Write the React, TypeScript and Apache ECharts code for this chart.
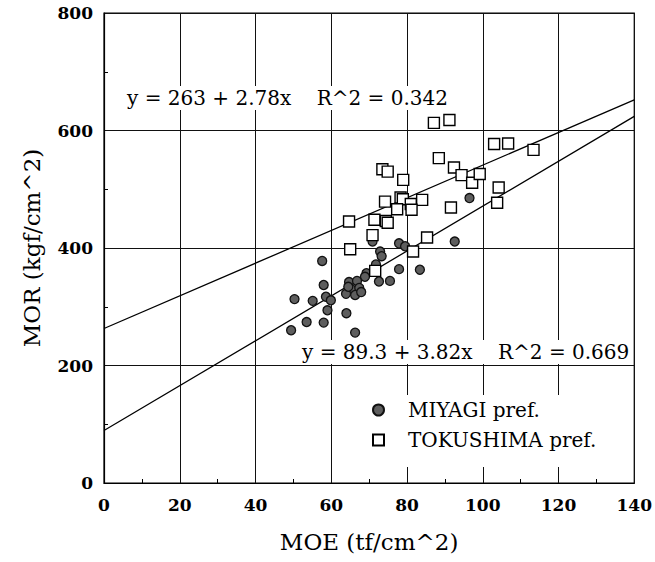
import React, { useEffect, useRef } from "react";
import * as echarts from "echarts";

// MIYAGI pref. (MOE tf/cm^2, MOR kgf/cm^2)
const miyagiMOE = [92.6, 96.5, 77.9, 79.5, 72.9, 73.3, 70.9, 57.6, 71.8, 69.3, 68.9, 77.9, 83.4, 72.6, 75.5, 64.7, 66.8, 65.3, 67.4, 63.9, 66.3, 67.9, 64.5, 58.0, 50.3, 55.1, 58.6, 59.9, 59.0, 64.0, 49.4, 53.5, 58.0, 66.3];
const miyagiMOR = [411, 485, 408, 403, 394, 386, 411, 378, 372, 357, 351, 364, 363, 343, 344, 342, 344, 330, 332, 322, 320, 325, 334, 337, 313, 310, 317, 311, 294, 289, 260, 274, 273, 256];

// TOKUSHIMA pref.
const tokuMOE = [87.1, 91.2, 103.0, 106.7, 113.4, 88.4, 92.4, 94.4, 97.2, 99.2, 104.2, 103.8, 91.6, 73.5, 74.9, 79.0, 78.3, 78.9, 74.2, 84.0, 81.0, 81.2, 77.4, 64.7, 71.4, 74.4, 74.9, 70.9, 85.3, 65.0, 81.6, 71.6];
const tokuMOR = [613, 618, 577, 578, 567, 553, 537, 524, 511, 526, 503, 477, 469, 534, 530, 516, 486, 483, 479, 482, 475, 465, 466, 445, 448, 446, 443, 422, 418, 398, 394, 361];

// Regression lines (end points at MOE = 0 and 140)
const fitTokuX = [0, 140];
const fitTokuY = [263, 652.2];
const fitMiyagiX = [0, 140];
const fitMiyagiY = [89.3, 624.1];

const eqToku = "y = 263 + 2.78x    R^2 = 0.342";
const eqMiyagi = "y = 89.3 + 3.82x    R^2 = 0.669";

const seriesNames = ["MIYAGI pref.", "TOKUSHIMA pref."];
const xTitle = "MOE (tf/cm^2)";
const yTitle = "MOR (kgf/cm^2)";

const FONT = "DejaVu Serif";

export default function App() {
  const ref = useRef<HTMLDivElement>(null);
  useEffect(() => {
    if (!ref.current) return;
    const chart = echarts.init(ref.current, undefined, { renderer: "svg" });
    const pairs = (xs: number[], ys: number[]) => xs.map((x, i) => [x, ys[i]]);
    const axisLabel = { color: "#000", fontFamily: FONT, fontWeight: "bold" as const, fontSize: 17 };
    const line = { lineStyle: { color: "#111", width: 1 } };
    chart.setOption({
      animation: false,
      backgroundColor: "#fff",
      grid: { left: 104, right: 19, top: 13, bottom: 79, show: true, borderColor: "#000", borderWidth: 1.2 },
      xAxis: {
        type: "value", min: 0, max: 140, interval: 20,
        name: xTitle, nameLocation: "middle", nameGap: 47,
        nameTextStyle: { color: "#000", fontFamily: FONT, fontSize: 23 },
        axisLine: { show: true, lineStyle: { color: "#000", width: 1.2 } },
        axisTick: { show: false },
        minorTick: { show: true, splitNumber: 2, length: -4, lineStyle: { color: "#000" } },
        axisLabel: { ...axisLabel, margin: 13 },
        splitLine: { show: true, ...line },
      },
      yAxis: {
        type: "value", min: 0, max: 800, interval: 200,
        name: yTitle, nameLocation: "middle", nameGap: 61, nameRotate: 90,
        nameTextStyle: { color: "#000", fontFamily: FONT, fontSize: 23 },
        axisLine: { show: true, lineStyle: { color: "#000", width: 1.2 } },
        axisTick: { show: false },
        minorTick: { show: true, splitNumber: 2, length: -4, lineStyle: { color: "#000" } },
        axisLabel: { ...axisLabel, margin: 11 },
        splitLine: { show: true, ...line },
      },
      legend: {
        orient: "vertical",
        left: 362,
        top: 395,
        padding: [5, 20, 17, 10],
        backgroundColor: "#fff",
        itemWidth: 11,
        itemHeight: 11,
        itemGap: 10,
        data: [
          { name: seriesNames[0], icon: "circle" },
          { name: seriesNames[1], icon: "rect" },
        ],
        textStyle: { color: "#000", fontFamily: FONT, fontWeight: "normal", fontSize: 20, lineHeight: 20, padding: [0, 0, 0, 19] },
      },
      graphic: [
        {
          type: "text", x: 125, y: 98, z: 50,
          style: { text: eqToku, font: `20px "${FONT}"`, fill: "#000", verticalAlign: "middle", align: "left", backgroundColor: "#fff", padding: [2, 2] },
        },
        {
          type: "text", x: 300, y: 352, z: 50,
          style: { text: eqMiyagi, font: `20px "${FONT}"`, fill: "#000", verticalAlign: "middle", align: "left", backgroundColor: "#fff", padding: [2, 2] },
        },
      ],
      series: [
        {
          type: "line", name: "fitToku", data: pairs(fitTokuX, fitTokuY), symbol: "none",
          lineStyle: { color: "#000", width: 1.3 }, z: 2,
        },
        {
          type: "line", name: "fitMiyagi", data: pairs(fitMiyagiX, fitMiyagiY), symbol: "none",
          lineStyle: { color: "#000", width: 1.3 }, z: 2,
        },
        {
          type: "scatter", name: seriesNames[0], data: pairs(miyagiMOE, miyagiMOR),
          symbol: "circle", symbolSize: 9, z: 3,
          itemStyle: { color: "#5e5e5e", borderColor: "#111", borderWidth: 1.3, opacity: 1 },
        },
        {
          type: "scatter", name: seriesNames[1], data: pairs(tokuMOE, tokuMOR),
          symbol: "rect", symbolSize: 11, z: 4,
          itemStyle: { color: "#fff", borderColor: "#000", borderWidth: 1.4, opacity: 1 },
        },
      ],
    });
    return () => chart.dispose();
  }, []);
  return <div ref={ref} style={{ width: 655, height: 562, position: "absolute", left: 0, top: 0 }} />;
}
